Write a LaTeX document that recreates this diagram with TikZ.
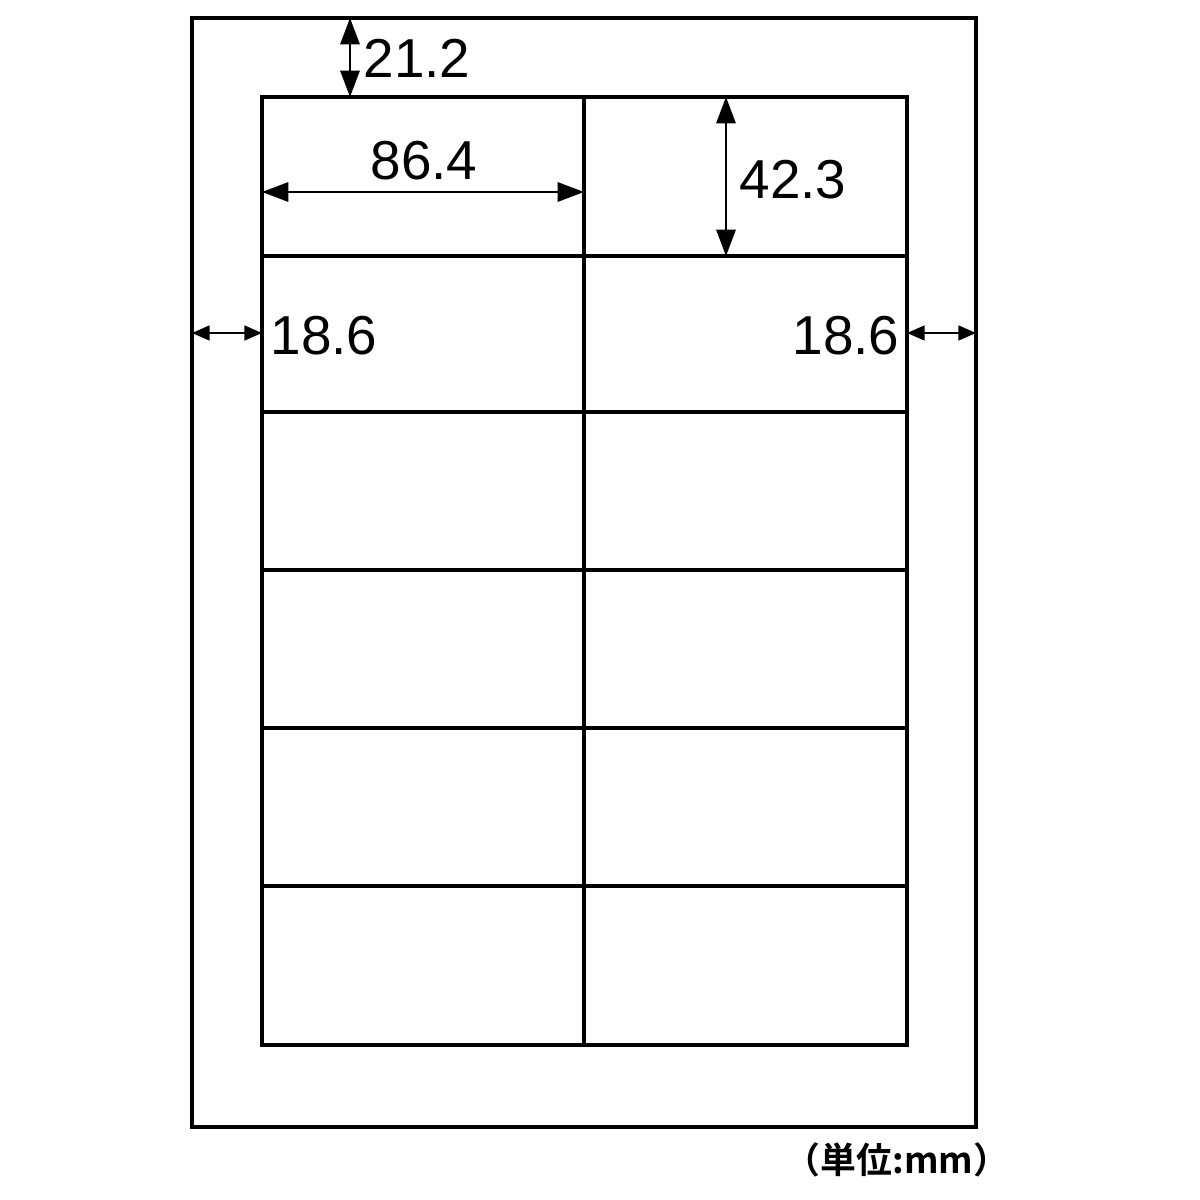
\documentclass[tikz,border=0pt]{standalone}
\usepackage{fontspec}
\setmainfont{Liberation Sans}
\newfontfamily\jpfont{Noto Sans CJK JP}[BoldFont={Noto Sans CJK JP Bold}]
\usetikzlibrary{arrows.meta}

\begin{document}
\begin{tikzpicture}[x=0.01cm,y=-0.01cm,
  sheet/.style={line width=1.05pt},
  dimbig/.style={line width=0.6pt,{Triangle[length=7.5pt,width=5.5pt]}-{Triangle[length=7.5pt,width=5.5pt]}},
  dimsmall/.style={line width=0.6pt,{Triangle[length=5pt,width=4.2pt]}-{Triangle[length=5pt,width=4.2pt]}},
  dimtext/.style={inner sep=0pt,font=\fontsize{15.6}{16}\selectfont}]
\useasboundingbox (0,0) rectangle (1200,1200);

% sheet
\draw[sheet] (192,18) coordinate (pagetl) rectangle (976,1127) coordinate (pagebr);

% labels, 2 x 6
\coordinate (gridtl) at (262,97);
\coordinate (gridbr) at (907,1045);
\draw[sheet] (gridtl) rectangle (gridbr);
\draw[sheet] (584,97) coordinate (midtop) -- (584,1045);
\foreach \y in {256,412,570,728,886}
  \draw[sheet] (262,\y) -- (907,\y);

% dimensions
\coordinate (topA) at (350,18);
\coordinate (topB) at (350,97);
\draw[dimbig] (topA) -- (topB);
\node[dimtext,anchor=west] (topmargin) at (363,58) {21.2};

\coordinate (widA) at (262,192);
\coordinate (widB) at (584,192);
\draw[dimbig] (widA) -- (widB);
\node[dimtext] (labelwidth) at (424,161) {86.4};

\coordinate (hgtA) at (726,97);
\coordinate (hgtB) at (726,256);
\draw[dimbig] (hgtA) -- (hgtB);
\node[dimtext,anchor=west] (labelheight) at (739,180) {42.3};

\coordinate (leftA) at (192,333);
\coordinate (leftB) at (262,333);
\draw[dimsmall] (leftA) -- (leftB);
\node[dimtext,anchor=west] (leftmargin) at (270,336) {18.6};

\coordinate (rightA) at (907,333);
\coordinate (rightB) at (976,333);
\draw[dimsmall] (rightA) -- (rightB);
\node[dimtext,anchor=east] (rightmargin) at (900,336) {18.6};

\node[inner sep=0pt,font=\jpfont\bfseries\fontsize{10.2}{11}\selectfont] (unit) at (897,1160) {（単位:mm）};
\end{tikzpicture}
\end{document}
